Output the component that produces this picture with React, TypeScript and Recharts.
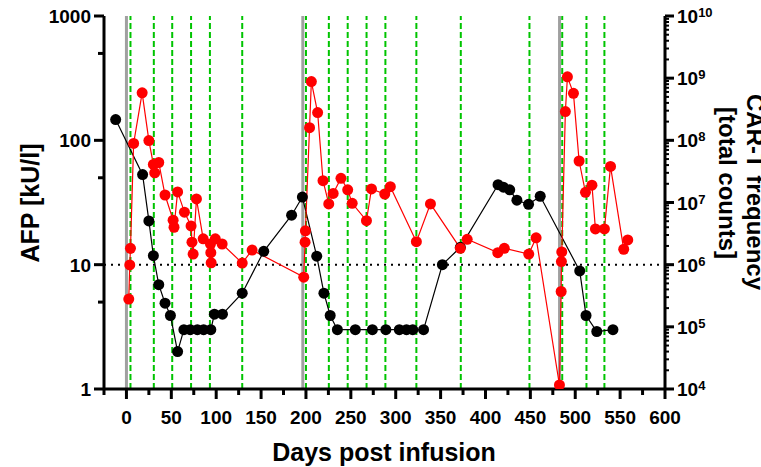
import { ComposedChart, Line, XAxis, YAxis, ReferenceLine } from 'recharts'

const FONT = 'Liberation Sans, Arial, Helvetica, sans-serif'

// AFP (left axis, kU/l)
const afpDays = [-12, 18, 25, 30, 36, 43, 49, 57, 64, 71, 79, 86, 94, 98, 107, 129, 153, 184, 196, 212, 220, 227, 235, 255, 274, 289, 304, 312, 319, 331, 352, 372, 414, 420, 427, 435, 448, 461, 505, 512, 524, 542]
const afpValues = [147, 53, 22.5, 11.8, 6.9, 4.9, 3.9, 2, 3, 3, 3, 3, 3, 4, 4, 5.9, 12.8, 25, 35, 11.7, 5.9, 3.9, 3, 3, 3, 3, 3, 3, 3, 3, 10, 13.8, 44, 42, 40, 33, 30.6, 35.5, 8.9, 3.9, 2.9, 3]

// CAR-T frequency (right axis, total counts)
const carDays = [2.6, 3.7, 4.5, 8, 17.5, 25, 30, 31.5, 36, 43, 52, 53, 57, 64.6, 72, 73, 74.3, 78, 85.5, 93.6, 94, 94.4, 99, 106.6, 129, 140, 197.5, 199, 199.4, 204, 206, 213, 219, 225.4, 230.3, 239, 246.5, 251.5, 267.4, 273, 287.8, 294, 323, 338.7, 372, 379.6, 413.7, 421, 448.2, 456.4, 482.4, 484.3, 484.6, 485, 489, 491.3, 498, 504.3, 511.4, 518.6, 522.5, 532.5, 539.3, 554, 558.5]
const carCounts = [2.8e5, 9.9e5, 1.83e6, 8.9e7, 5.8e8, 9.9e7, 4.1e7, 3.0e7, 4.4e7, 1.32e7, 5.2e6, 4.0e6, 1.48e7, 7.0e6, 4.2e6, 2.3e6, 1.48e6, 1.14e7, 2.6e6, 2.15e6, 1.56e6, 1.07e6, 2.6e6, 2.15e6, 1.06e6, 1.72e6, 6.3e5, 2.3e6, 3.5e6, 1.6e8, 8.8e8, 2.8e8, 2.24e7, 9.5e6, 1.4e7, 2.45e7, 1.6e7, 9.7e6, 5.1e6, 1.65e7, 1.37e7, 1.8e7, 2.34e6, 9.5e6, 1.83e6, 2.56e6, 1.56e6, 1.83e6, 1.48e6, 2.7e6, 1.16e4, 3.7e5, 1.12e6, 1.6e6, 2.9e8, 1.05e9, 5.7e8, 4.65e7, 1.46e7, 1.9e7, 3.75e6, 3.75e6, 3.8e7, 1.77e6, 2.5e6]

// infusion markers
const cycleDays = [0, 196.5, 482.5]
const doseDays = [4.5, 30.5, 51, 72, 93, 129, 200, 225.5, 246.5, 267.5, 288.5, 323, 372.5, 449, 485.5, 512.5, 532.5]

const xTicks = [-25, 0, 25, 50, 75, 100, 125, 150, 175, 200, 225, 250, 275, 300, 325, 350, 375, 400, 425, 450, 475, 500, 525, 550, 575, 600]
const leftTicks = [1, 5, 10, 50, 100, 500, 1000]
const leftMajor = [1, 10, 100, 1000]
const rightTicks: number[] = []
for (let e = 4; e < 10; e++) for (let m = 1; m <= 9; m++) rightTicks.push(m * Math.pow(10, e))
rightTicks.push(1e10)

const afpData = afpDays.map((day, i) => ({ day, afp: afpValues[i] }))
const carData = carDays.map((day, i) => ({ day, car: carCounts[i] }))

function XTick({ x, y, payload }: any) {
  const major = payload.value % 50 === 0
  return (
    <g>
      <line x1={x} x2={x} y1={y} y2={y + (major ? 10 : 6)} stroke="#000" strokeWidth={3} />
      {major && (
        <text x={x} y={y + 35} textAnchor="middle" fontSize={19} fontWeight="bold" fontFamily={FONT} fill="#000">
          {payload.value}
        </text>
      )}
    </g>
  )
}

function LeftTick({ x, y, payload }: any) {
  const major = leftMajor.includes(payload.value)
  return (
    <g>
      <line x1={x - (major ? 10 : 6)} x2={x} y1={y} y2={y} stroke="#000" strokeWidth={3} />
      {major && (
        <text x={x - 13} y={y + 7} textAnchor="end" fontSize={19} fontWeight="bold" fontFamily={FONT} fill="#000">
          {payload.value}
        </text>
      )}
    </g>
  )
}

function RightTick({ x, y, payload }: any) {
  const exp = Math.log10(payload.value)
  const major = Math.abs(exp - Math.round(exp)) < 1e-6
  return (
    <g>
      <line x1={x} x2={x + (major ? 9 : 4)} y1={y} y2={y} stroke="#000" strokeWidth={major ? 3 : 2} />
      {major && (
        <text x={x + 12} y={y + 7} fontSize={19} fontWeight="bold" fontFamily={FONT} fill="#000">
          10
          <tspan dy={-6} fontSize={13}>{Math.round(exp)}</tspan>
        </text>
      )}
    </g>
  )
}

const XTitle = () => (
  <text x={384} y={461} textAnchor="middle" fontSize={25} fontWeight="bold" fontFamily={FONT} fill="#000">
    Days post infusion
  </text>
)

const LeftTitle = () => (
  <text transform="translate(39,203) rotate(-90)" textAnchor="middle" fontSize={25} fontWeight="bold" fontFamily={FONT} fill="#000">
    AFP [kU/l]
  </text>
)

const RightTitle = () => (
  <g>
    <text transform="translate(747,192) rotate(90)" textAnchor="middle" fontSize={24} fontWeight="bold" fontFamily={FONT} fill="#000">
      CAR-T frequency
    </text>
    <text transform="translate(719,183) rotate(90)" textAnchor="middle" fontSize={24} fontWeight="bold" fontFamily={FONT} fill="#000">
      [total counts]
    </text>
  </g>
)

export default function App() {
  return (
    <div style={{ position: 'absolute', left: 0, top: 0, background: '#fff' }}>
      <ComposedChart width={761} height={467} margin={{ top: 16, right: 0, bottom: 0, left: 0 }}>
        <XAxis
          type="number"
          dataKey="day"
          domain={[-25, 600]}
          ticks={xTicks}
          interval={0}
          allowDataOverflow
          tickSize={0}
          tickMargin={0}
          tickLine={false}
          tick={<XTick />}
          axisLine={{ stroke: '#000', strokeWidth: 3 }}
          height={78}
          label={<XTitle />}
        />
        <YAxis
          yAxisId="left"
          orientation="left"
          scale="log"
          domain={[1, 1000]}
          ticks={leftTicks}
          interval={0}
          allowDataOverflow
          tickSize={0}
          tickMargin={0}
          tickLine={false}
          tick={<LeftTick />}
          axisLine={{ stroke: '#000', strokeWidth: 3 }}
          width={104}
          label={<LeftTitle />}
        />
        <YAxis
          yAxisId="right"
          orientation="right"
          scale="log"
          domain={[1e4, 1e10]}
          ticks={rightTicks}
          interval={0}
          allowDataOverflow
          tickSize={0}
          tickMargin={0}
          tickLine={false}
          tick={<RightTick />}
          axisLine={{ stroke: '#000', strokeWidth: 3 }}
          width={96}
          label={<RightTitle />}
        />
        {cycleDays.map((d) => (
          <ReferenceLine key={`c${d}`} x={d} yAxisId="left" stroke="#a0a0a0" strokeWidth={3} />
        ))}
        {doseDays.map((d) => (
          <ReferenceLine key={`d${d}`} x={d} yAxisId="left" stroke="#00c400" strokeWidth={2} strokeDasharray="6 3" />
        ))}
        <ReferenceLine y={10} yAxisId="left" stroke="#000" strokeWidth={2} strokeDasharray="2 5" />
        <Line
          data={afpData}
          yAxisId="left"
          dataKey="afp"
          stroke="#000"
          strokeWidth={1.2}
          dot={{ r: 5.5, fill: '#000', stroke: '#000', strokeWidth: 0 }}
          activeDot={false}
          isAnimationActive={false}
        />
        <Line
          data={carData}
          yAxisId="right"
          dataKey="car"
          stroke="#ff0000"
          strokeWidth={1.2}
          dot={{ r: 5.5, fill: '#ff0000', stroke: '#ff0000', strokeWidth: 0 }}
          activeDot={false}
          isAnimationActive={false}
        />
      </ComposedChart>
    </div>
  )
}
